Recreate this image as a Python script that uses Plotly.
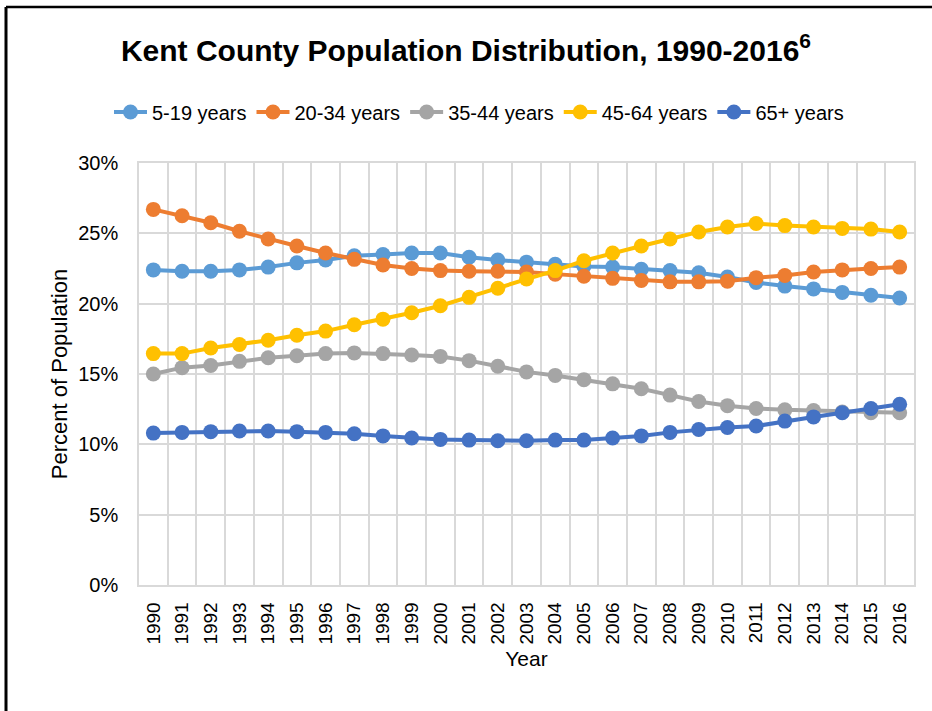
import plotly.graph_objects as go

years = [str(y) for y in range(1990, 2017)]

age_5_19 = [22.4, 22.3, 22.3, 22.4, 22.6, 22.9, 23.1, 23.4, 23.5, 23.6, 23.6, 23.3, 23.1, 22.95,
            22.8, 22.65, 22.6, 22.45, 22.35, 22.2, 21.9, 21.5, 21.25, 21.05, 20.8, 20.6, 20.4]
age_20_34 = [26.7, 26.25, 25.75, 25.15, 24.6, 24.1, 23.6, 23.15, 22.75, 22.5, 22.35, 22.3, 22.3, 22.25,
             22.1, 21.95, 21.8, 21.65, 21.55, 21.55, 21.6, 21.85, 22.0, 22.25, 22.4, 22.5, 22.6]
age_35_44 = [15.0, 15.45, 15.6, 15.9, 16.15, 16.3, 16.45, 16.5, 16.45, 16.35, 16.25, 15.95, 15.55, 15.15,
             14.9, 14.6, 14.3, 13.95, 13.5, 13.05, 12.75, 12.55, 12.45, 12.4, 12.3, 12.25, 12.25]
age_45_64 = [16.45, 16.45, 16.85, 17.1, 17.4, 17.75, 18.05, 18.5, 18.9, 19.35, 19.85, 20.45, 21.1, 21.75,
             22.35, 23.05, 23.6, 24.1, 24.6, 25.1, 25.45, 25.7, 25.55, 25.45, 25.35, 25.3, 25.1]
age_65 = [10.8, 10.85, 10.9, 10.95, 10.95, 10.9, 10.85, 10.75, 10.6, 10.45, 10.35, 10.3, 10.25, 10.25,
          10.3, 10.3, 10.45, 10.6, 10.85, 11.05, 11.2, 11.3, 11.65, 11.95, 12.25, 12.55, 12.85]

series = [
    ("5-19 years", age_5_19, "#5B9BD5"),
    ("20-34 years", age_20_34, "#ED7D31"),
    ("35-44 years", age_35_44, "#A5A5A5"),
    ("45-64 years", age_45_64, "#FFC000"),
    ("65+ years", age_65, "#4472C4"),
]

FONT = "Liberation Sans, Arial, sans-serif"

fig = go.Figure()
for name, vals, color in series:
    fig.add_trace(go.Scatter(
        x=years, y=vals, name=name, mode="lines+markers",
        line=dict(color=color, width=4),
        marker=dict(color=color, size=15),
    ))

fig.update_layout(
    width=932, height=711,
    paper_bgcolor="white", plot_bgcolor="white",
    margin=dict(l=139, r=18, t=163, b=126),
    title=dict(
        text="<b>Kent County Population Distribution, 1990-2016<sup>6</sup></b>",
        x=0.5, xanchor="center", y=1 - 50 / 711, yanchor="middle",
        font=dict(family=FONT, size=30, color="black"),
    ),
    legend=dict(
        orientation="h", x=(479 - 139) / 775, xanchor="center", y=(585 - 112) / 422, yanchor="middle",
        font=dict(family=FONT, size=20, color="black"),
        itemwidth=33, tracegroupgap=0,
    ),
    showlegend=True,
)

fig.update_xaxes(
    type="category", tickson="boundaries", range=[-0.5, 26.5],
    tickangle=-90, tickfont=dict(family=FONT, size=19, color="black"),
    ticklabelstandoff=8,
    showgrid=True, gridcolor="#D9D9D9", gridwidth=1.5,
    showline=True, linecolor="#D9D9D9", linewidth=1.5, mirror=True,
    ticks="", title=dict(text="Year", font=dict(family=FONT, size=21, color="black"), standoff=8),
)
fig.update_yaxes(
    range=[0, 30], dtick=5, ticksuffix="%",
    tickfont=dict(family=FONT, size=20, color="black"),
    ticklabelstandoff=15,
    showgrid=True, gridcolor="#D9D9D9", gridwidth=1.5,
    showline=True, linecolor="#D9D9D9", linewidth=1.5, mirror=True,
    zeroline=False, ticks="",
    title=dict(text="Percent of Population", font=dict(family=FONT, size=22, color="black"), standoff=5),
)

# outer frame (top and left edges visible in the reference)
fx0 = (6 - 139) / 775
fy1 = (585 - 7) / 422
fig.add_shape(type="line", xref="paper", yref="paper", x0=fx0, x1=1.1, y0=fy1, y1=fy1,
              line=dict(color="black", width=2.5))
fig.add_shape(type="line", xref="paper", yref="paper", x0=fx0, x1=fx0, y0=fy1, y1=-0.4,
              line=dict(color="black", width=3))

fig.write_html("out.html", config={"displayModeBar": False},
               post_script="document.body.style.margin='0';")
